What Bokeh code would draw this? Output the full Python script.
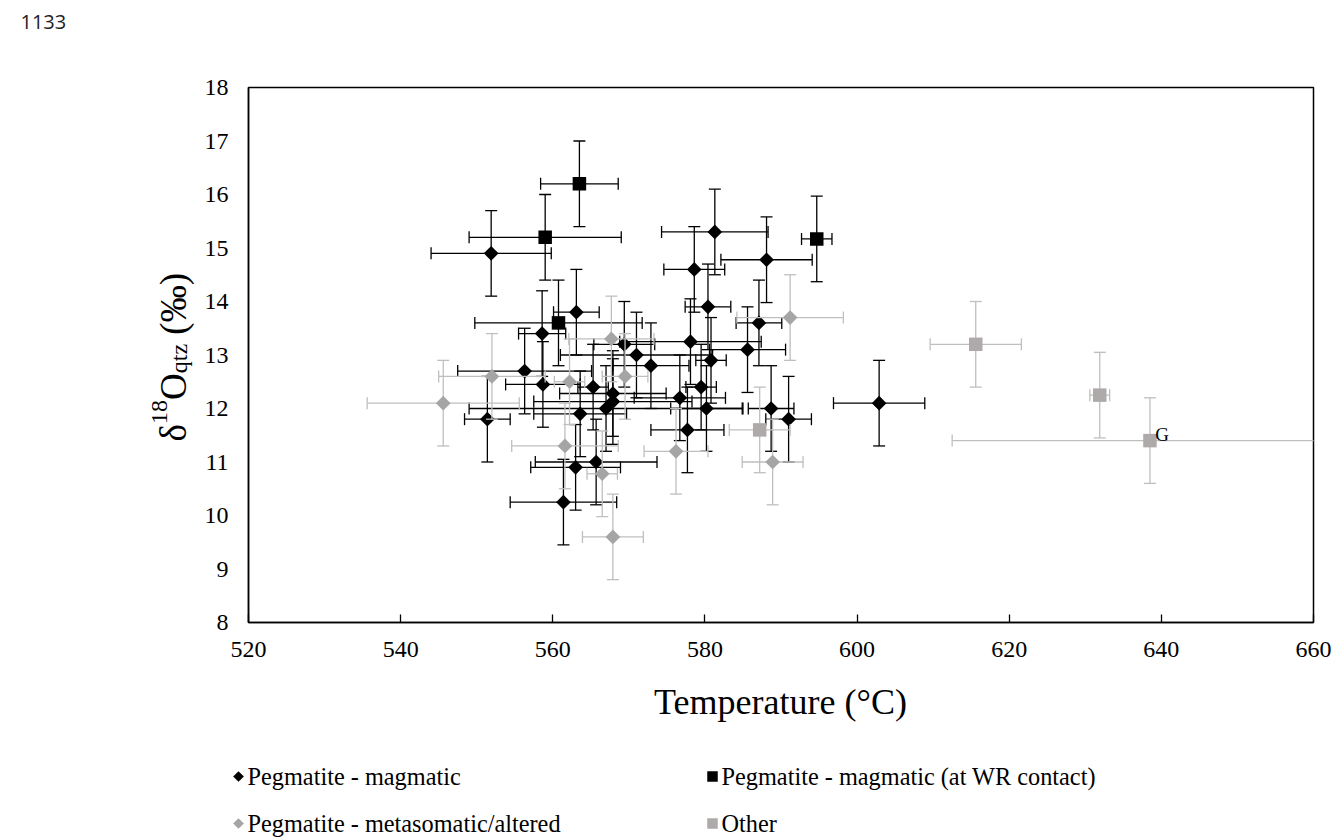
import numpy as np
from math import pi
from bokeh.plotting import figure
from bokeh.layouts import column, row
from bokeh.models import Range1d, FixedTicker, Label
from bokeh.embed import file_html
from bokeh.resources import INLINE

# ---------------- data ----------------
mag_T = [551.9, 581.3, 578.6, 588.1, 580.4, 587.1, 578.1, 585.6, 580.8, 602.9, 591.0, 588.7, 580.2, 579.5, 576.7, 577.7,
         572.9, 571.0, 569.4, 563.1, 558.6, 556.3, 558.7, 565.3, 567.9, 567.9, 567.0, 563.6, 551.4, 563.0, 565.7, 561.4]
mag_d = [14.9, 15.3, 14.6, 14.78, 13.9, 13.6, 13.25, 13.1, 12.9, 12.1, 11.8, 12.0, 12.0, 12.4, 12.2, 11.6,
         12.8, 13.0, 13.2, 13.8, 13.4, 12.7, 12.45, 12.4, 12.28, 12.13, 12.0, 11.9, 11.8, 10.9, 11.0, 10.25]
mag_Terr = [7.9, 7.0, 4.0, 6.0, 3.0, 3.0, 9.3, 5.0, 2.0, 6.0, 3.0, 3.0, 4.7, 2.0, 6.0, 4.8,
            5.0, 10.0, 4.0, 3.0, 3.1, 8.8, 4.9, 2.0, 7.0, 10.4, 18.0, 6.1, 3.0, 5.9, 8.0, 7.0]

wr_T = [563.5, 559.0, 560.75, 594.7]
wr_d = [16.2, 15.2, 13.6, 15.17]
wr_Terr = [5.1, 10.0, 11.0, 2.0]

meta_T = [545.6, 552.0, 562.2, 561.6, 566.5, 567.9, 567.7, 569.5, 576.2, 588.9, 591.2]
meta_d = [12.1, 12.6, 12.5, 11.3, 10.78, 9.6, 13.3, 12.6, 11.2, 11.0, 13.7]
meta_Terr = [10.0, 7.0, 2.0, 7.0, 2.0, 4.0, 5.6, 3.0, 4.2, 4.0, 7.0]

other_T = [615.6, 631.9, 638.5, 587.2]
other_d = [13.2, 12.25, 11.4, 11.6]
other_Terr = [6.0, 1.3, 26.0, 4.0]

d_err = 0.8
x_ticks = [520, 540, 560, 580, 600, 620, 640, 660]
y_ticks = [8, 9, 10, 11, 12, 13, 14, 15, 16, 17, 18]
series_names = ["Pegmatite - magmatic", "Pegmatite - magmatic (at WR contact)",
                "Pegmatite - metasomatic/altered", "Other"]
series_fill = ["black", "black", "#a5a5a5", "#aeaaaa"]
series_err = ["black", "black", "#bfbfbf", "#bfbfbf"]

SERIF = "Liberation Serif"
W, H = 1342, 840
TOP_STRIP = 55        # strip holding the page number
LEFT_W = 195          # strip holding the y title
MID_H = 625           # row holding the chart (page y 55..680)
FRAME_L, FRAME_R, FRAME_T, FRAME_B = 248, 1313, 87, 622
B_TOP = FRAME_T - TOP_STRIP
B_BOT = TOP_STRIP + MID_H - FRAME_B


def blank(width, height, xr=None, yr=None, **kw):
    f = figure(width=width, height=height,
               x_range=xr if xr is not None else Range1d(0, width),
               y_range=yr if yr is not None else Range1d(height, 0),
               output_backend="svg", toolbar_location=None,
               x_axis_location=None, y_axis_location=None, **kw)
    f.outline_line_color = None
    f.xgrid.visible = False
    f.ygrid.visible = False
    f.background_fill_color = "white"
    f.border_fill_color = "white"
    return f


# ---------------- main chart ----------------
p = figure(width=W - LEFT_W, height=MID_H, x_range=Range1d(520, 660), y_range=Range1d(8, 18),
           output_backend="svg", toolbar_location=None,
           min_border_left=FRAME_L - LEFT_W, min_border_right=W - FRAME_R,
           min_border_top=B_TOP, min_border_bottom=B_BOT)
p.background_fill_color = "white"
p.border_fill_color = "white"
p.outline_line_color = "black"
p.outline_line_width = 1.5
p.xgrid.visible = False
p.ygrid.visible = False

for ax in (p.xaxis[0], p.yaxis[0]):
    ax.axis_line_color = "black"
    ax.axis_line_width = 1.5
    ax.major_tick_line_color = "black"
    ax.major_tick_line_width = 1.3
    ax.minor_tick_line_color = None
    ax.major_label_text_font = SERIF
    ax.major_label_text_font_size = "24px"
    ax.major_label_text_color = "black"
p.xaxis.ticker = FixedTicker(ticks=x_ticks)
p.yaxis.ticker = FixedTicker(ticks=y_ticks)
p.xaxis.major_tick_in = 8
p.xaxis.major_tick_out = 0
p.yaxis.major_tick_in = 0
p.yaxis.major_tick_out = 0
p.xaxis.major_label_standoff = 19
p.yaxis.major_label_standoff = 20


def add_series(T, d, Te, err_color, fill, size, angle):
    T = np.array(T, float); d = np.array(d, float); Te = np.array(Te, float)
    lw = 1.3
    p.segment(x0=T - Te, y0=d, x1=T + Te, y1=d, line_color=err_color, line_width=lw)
    p.segment(x0=T, y0=d - d_err, x1=T, y1=d + d_err, line_color=err_color, line_width=lw)
    p.scatter(x=np.concatenate([T, T]), y=np.concatenate([d - d_err, d + d_err]), marker="dash",
              size=12, line_color=err_color, line_width=lw)
    p.scatter(x=np.concatenate([T - Te, T + Te]), y=np.concatenate([d, d]), marker="dash",
              size=12, angle=pi / 2, line_color=err_color, line_width=lw)
    p.scatter(x=T, y=d, marker="square", size=size, angle=angle, fill_color=fill, line_color=None)


add_series(mag_T, mag_d, mag_Terr, series_err[0], series_fill[0], 10.4, pi / 4)
add_series(wr_T, wr_d, wr_Terr, series_err[1], series_fill[1], 13.5, 0)
add_series(meta_T, meta_d, meta_Terr, series_err[2], series_fill[2], 10.4, pi / 4)
add_series(other_T, other_d, other_Terr, series_err[3], series_fill[3], 13.5, 0)

p.add_layout(Label(x=other_T[2] + 0.7, y=other_d[2] + 0.12, text="G", text_align="left",
                   text_baseline="alphabetic", text_font=SERIF, text_font_size="19px", text_color="black"))

# ---------------- top strip: page number ----------------
tf = blank(W, TOP_STRIP, min_border=0)
tf.add_layout(Label(x=20, y=21, text="1133", text_align="left", text_baseline="middle",
                    text_font="Open Sans", text_font_size="20px", text_color="#222222"))

# ---------------- left strip: y title (coordinates = page pixels) ----------------
lf = blank(LEFT_W, MID_H, yr=Range1d(FRAME_B, FRAME_T),
           min_border_left=0, min_border_right=0, min_border_top=B_TOP, min_border_bottom=B_BOT)
BIG, SMALL = 37, 24
base_x, cur_y = 173, 442
for txt, fs, dx, em in [("δ", BIG, 0, 0.5), ("18", SMALL, -14, 1.0), ("O", BIG, 0, 0.722),
                        ("qtz", SMALL, 5, 1.222), ("(‰)", BIG, 0, 1.667)]:
    if txt == "(‰)":
        cur_y -= 0.25 * BIG
    cur_y -= em * fs
    lf.add_layout(Label(x=base_x + dx, y=cur_y, text=txt, angle=pi / 2, text_align="right",
                        text_baseline="alphabetic", text_font=SERIF, text_font_size=f"{fs}px",
                        text_color="black"))

# ---------------- bottom strip: x title + legend ----------------
BOT0 = TOP_STRIP + MID_H
bf = blank(W, H - BOT0, min_border=0)
bf.add_layout(Label(x=780, y=701 - BOT0, text="Temperature (°C)", text_align="center",
                    text_baseline="middle", text_font=SERIF, text_font_size="36px", text_color="black"))

leg_x = [238, 712, 238, 712]
leg_y = [776 - BOT0, 776 - BOT0, 823 - BOT0, 823 - BOT0]
bf.scatter(x=[leg_x[0], leg_x[2]], y=[leg_y[0], leg_y[2]], marker="square", size=7.6,
           angle=pi / 4, fill_color=[series_fill[0], series_fill[2]], line_color=None)
bf.scatter(x=[leg_x[1], leg_x[3]], y=[leg_y[1], leg_y[3]], marker="square", size=10.5,
           fill_color=[series_fill[1], series_fill[3]], line_color=None)
bf.text(x=[lx + 9 for lx in leg_x], y=leg_y, text=series_names,
        text_align="left", text_baseline="middle", text_font=SERIF, text_font_size="24.3px",
        text_color="black")

layout = column(tf, row(lf, p), bf)
open("out.html", "w").write(file_html(layout, INLINE))
